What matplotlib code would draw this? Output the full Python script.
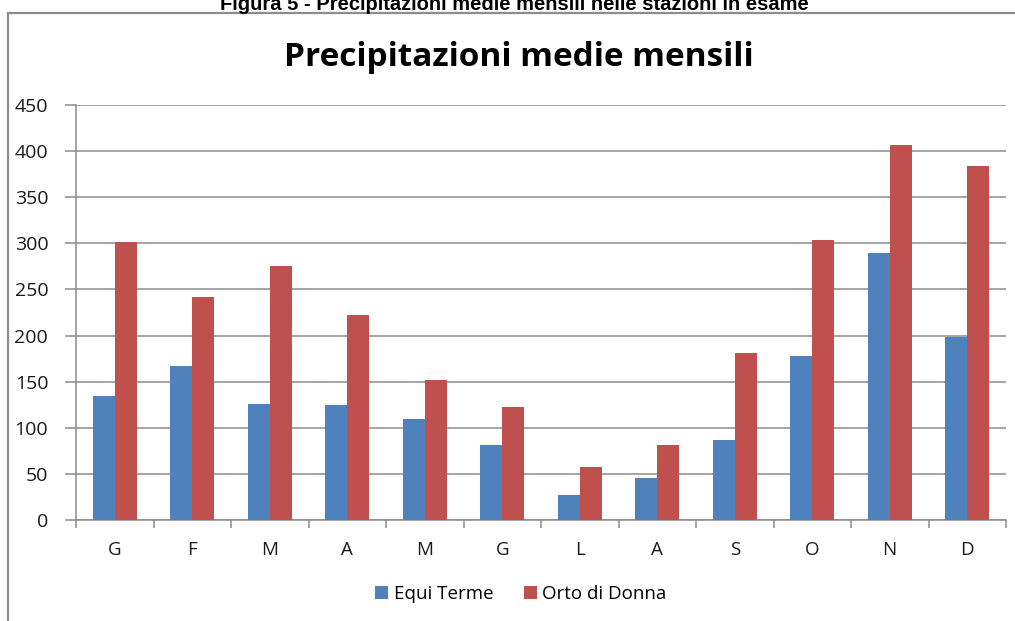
import numpy as np
import matplotlib
matplotlib.use("Agg")
import matplotlib.pyplot as plt
from matplotlib.patches import Rectangle

mesi = ["G", "F", "M", "A", "M", "G", "L", "A", "S", "O", "N", "D"]
equi_terme = [134, 167, 126, 125, 109, 81, 27, 46, 87, 178, 289, 198]
orto_di_donna = [301, 242, 275, 222, 152, 122, 58, 81, 181, 304, 407, 384]

blu = "#4F81BD"
rosso = "#C0504D"
grigio = "#8C8C8C"
font = ["Open Sans", "DejaVu Sans"]
plt.rcParams["font.family"] = font

W, H = 1015, 621
fig = plt.figure(figsize=(W / 100, H / 100), dpi=100)

# cornice del grafico (tagliata a destra e in basso)
fig.patches.append(Rectangle((8 / W, -0.1), 1.2, 1.1 - 13 / H, transform=fig.transFigure,
                             fill=False, edgecolor=grigio, linewidth=1.6))

# didascalia tagliata in alto, come nell'originale
fig.text(0.507, 1 + 5 / H, "Figura 5 - Precipitazioni medie mensili nelle stazioni in esame",
         ha="center", va="top", fontsize=14.5, fontweight="bold",
         family=["Liberation Sans", "DejaVu Sans"])

ax = fig.add_axes([76 / W, 1 - 520 / H, (1006 - 76) / W, (520 - 105) / H])

x = np.arange(len(mesi))
w = 0.285
ax.bar(x - w / 2, equi_terme, w, color=blu, label="Equi Terme", zorder=3)
ax.bar(x + w / 2, orto_di_donna, w, color=rosso, label="Orto di Donna", zorder=3)

ax.set_xlim(-0.5, len(mesi) - 0.5)
ax.set_ylim(0, 450)
ax.set_yticks(np.arange(0, 451, 50))
ax.yaxis.grid(True, color=grigio, linewidth=1.1, zorder=0)
ax.set_axisbelow(True)

ax.set_xticks(np.arange(-0.5, len(mesi), 1))
ax.set_xticklabels([])
ax.set_xticks(x, minor=True)
ax.set_xticklabels(mesi, minor=True)
ax.tick_params(axis="x", which="major", length=6, color=grigio, width=1.1)
ax.tick_params(axis="x", which="minor", length=0, pad=15, labelsize=13.5, labelcolor="#1a1a1a")
ax.tick_params(axis="y", length=8, color=grigio, width=1.1, pad=12, labelsize=14, labelcolor="#1a1a1a")

for s in ["top", "right"]:
    ax.spines[s].set_visible(False)
for s in ["left", "bottom"]:
    ax.spines[s].set_color(grigio)
    ax.spines[s].set_linewidth(1.1)

fig.text(519 / W, 1 - 57 / H, "Precipitazioni medie mensili", ha="center", va="center",
         fontsize=24, fontweight="bold")

fig.legend(loc="center", bbox_to_anchor=(521 / W, 1 - 594 / H), ncol=2, frameon=False,
           fontsize=13.5, handlelength=0.7, handleheight=0.7, handletextpad=0.3, columnspacing=1.6)

fig.savefig("out.png", dpi=100)
